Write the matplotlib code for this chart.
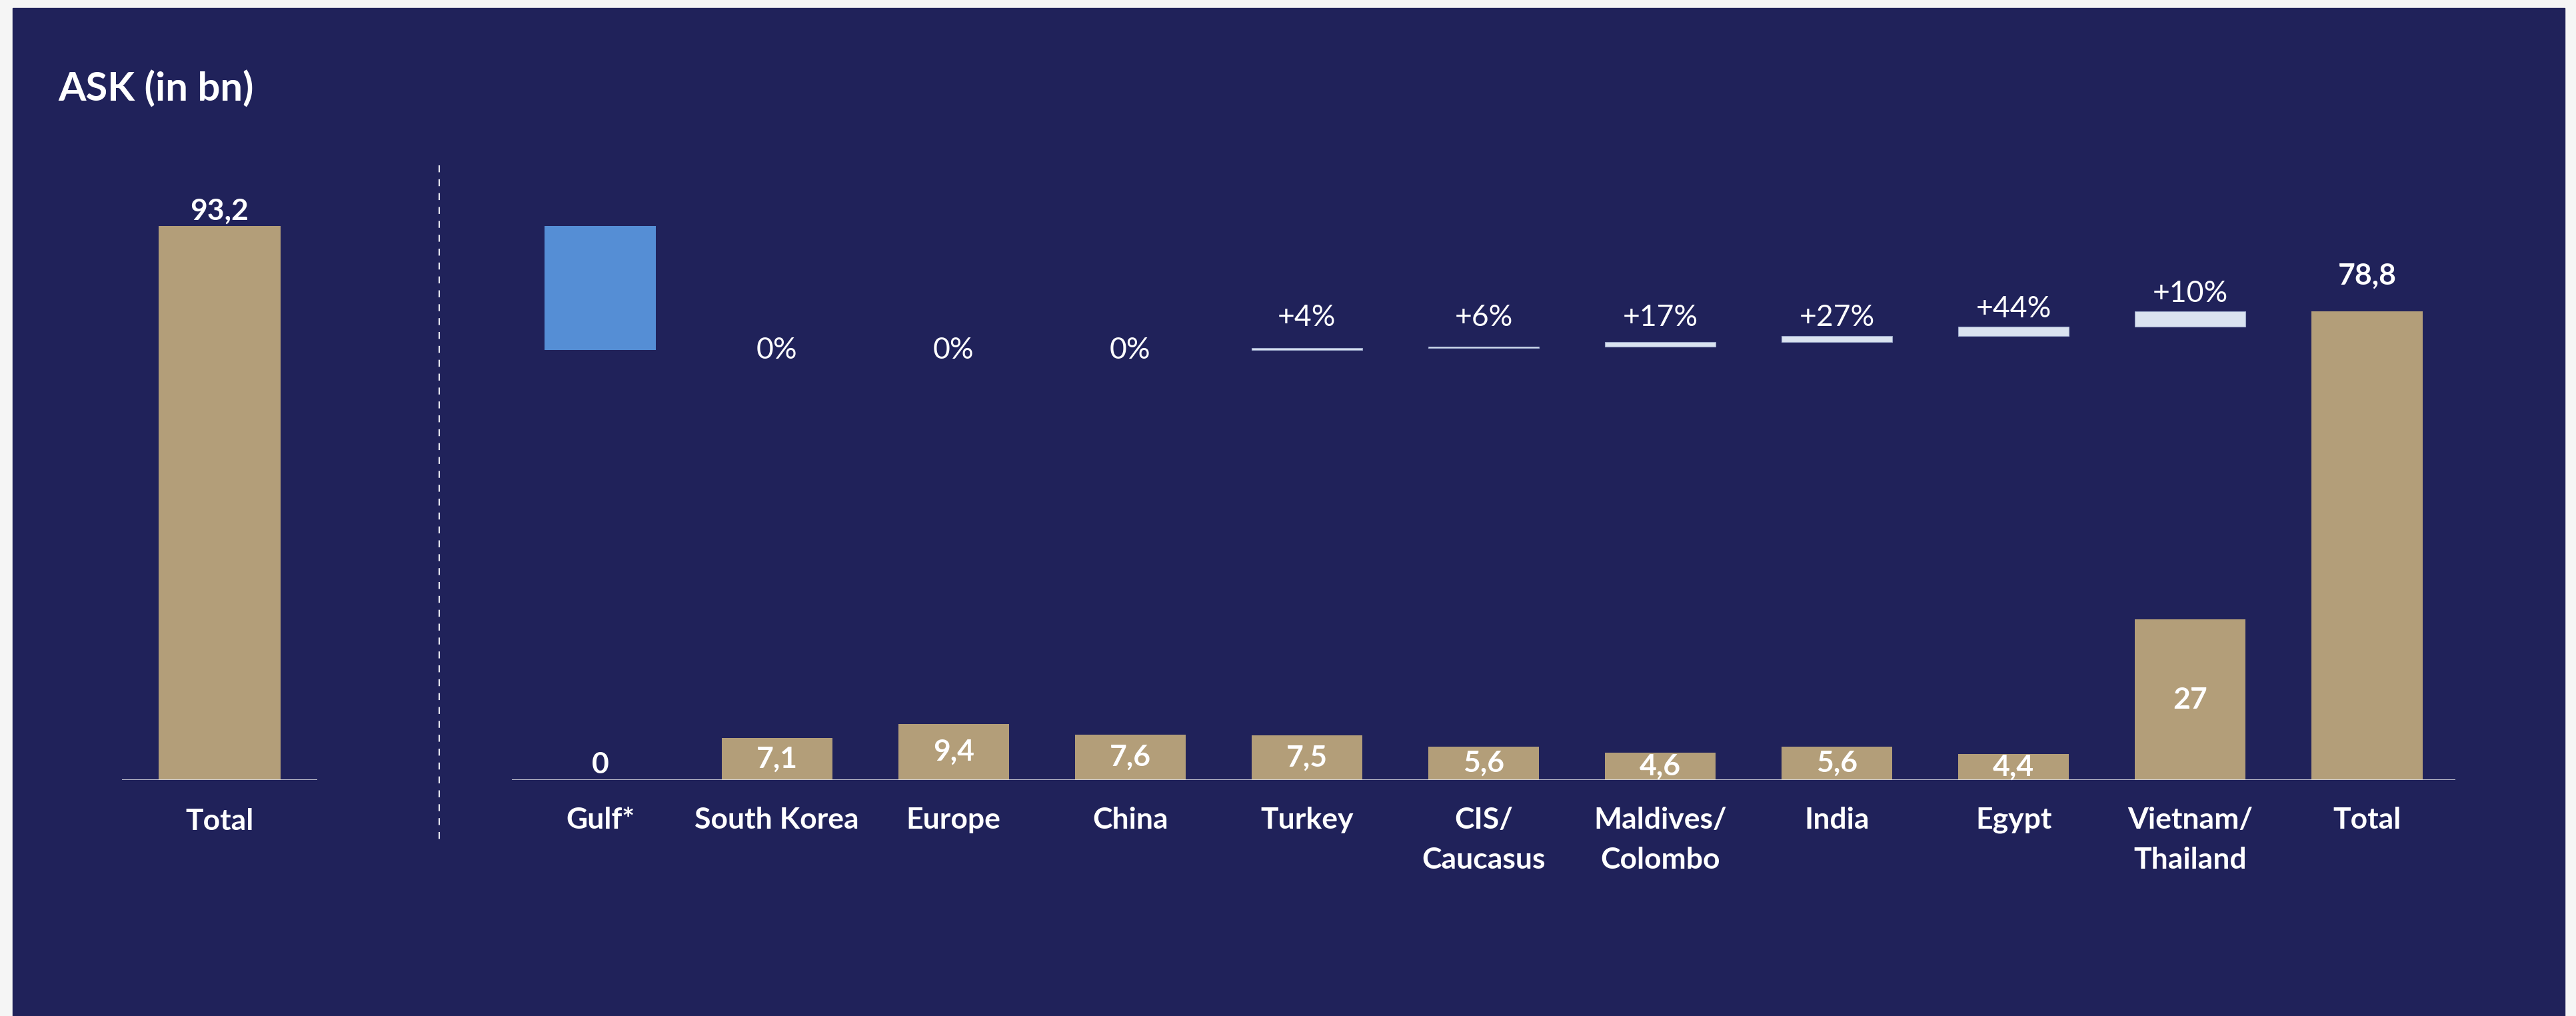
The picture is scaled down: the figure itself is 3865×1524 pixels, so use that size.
import numpy as np
import matplotlib.pyplot as plt
from matplotlib.patches import Rectangle
from matplotlib.lines import Line2D

plt.rcParams['font.family'] = ['Lato', 'DejaVu Sans']

navy = '#20225A'
gold = '#B39E79'
blue = '#558ED5'
pale = '#DAE3F0'
white = 'white'

# data
start_total = 93.2
start_label = '93,2'
regions = ['Gulf*', 'South Korea', 'Europe', 'China', 'Turkey', 'CIS/\nCaucasus',
           'Maldives/\nColombo', 'India', 'Egypt', 'Vietnam/\nThailand']
region_ask = [0, 7.1, 9.4, 7.6, 7.5, 5.6, 4.6, 5.6, 4.4, 27]
region_labels = ['0', '7,1', '9,4', '7,6', '7,5', '5,6', '4,6', '5,6', '4,4', '27']
gulf_drop = 20.9
growth = [0, 0, 0, 0.3, 0.3, 0.7, 1.1, 1.5, 2.6]  # South Korea .. Vietnam/Thailand
growth_pct = ['0%', '0%', '0%', '+4%', '+6%', '+17%', '+27%', '+44%', '+10%']
end_total = 78.8
end_label = '78,8'

W, H = 3865, 1524
fig = plt.figure(figsize=(W / 100, H / 100), dpi=100)
fig.patch.set_facecolor('#F5F5F5')
fig.add_artist(Rectangle((19 / W, 0), (3848 - 19) / W, (H - 12) / H,
                         transform=fig.transFigure, color=navy, zorder=-5))

ymax = 100
y0 = (H - 1170) / H
yh = 892 / H
axl = fig.add_axes([183 / W, y0, 293 / W, yh])
axr = fig.add_axes([768 / W, y0, 2916 / W, yh])

for ax in (axl, axr):
    ax.set_facecolor('none')
    for s in ax.spines.values():
        s.set_visible(False)
    ax.set_xticks([])
    ax.set_yticks([])
    ax.set_ylim(0, ymax)
    ax.axhline(0, color='#D4D4DC', lw=2, zorder=3)

bw = 0.627
fs = 32
lab_kw = dict(color=white, fontsize=fs, fontweight='bold', ha='center')

# left panel: starting total
axl.set_xlim(-0.5, 0.5)
axl.bar([0], [start_total], width=bw, color=gold, zorder=2)
axl.annotate(start_label, (0, start_total), xytext=(0, 9), textcoords='offset pixels',
             va='baseline', **lab_kw)
axl.annotate('Total', (0, 0), xytext=(0, -42), textcoords='offset pixels',
             va='top', **lab_kw)

# right panel: waterfall
n = len(regions)
x = np.arange(n + 1)
axr.set_xlim(-0.5, n + 0.5)

level = start_total - gulf_drop
axr.bar([0], [gulf_drop], bottom=[level], width=bw, color=blue, zorder=2)

for i, (g, p) in enumerate(zip(growth, growth_pct)):
    xi = i + 1
    if g > 0:
        axr.bar([xi], [g], bottom=[level], width=bw, color=pale,
                edgecolor='#9AA6C8', lw=0.8, zorder=2)
        ty = max(level + g + 1.6, 76.3)
        axr.text(xi, ty, p, color=white, fontsize=fs, ha='center', va='baseline')
    else:
        axr.text(xi, level, p, color=white, fontsize=fs, ha='center', va='center')
    level += g

axr.bar(x[:n], region_ask, width=bw, color=gold, zorder=2)
for xi, v, t in zip(x[:n], region_ask, region_labels):
    if v > 0:
        axr.text(xi, v / 2, t, va='center', zorder=4, **lab_kw)
    else:
        axr.annotate(t, (xi, 0), xytext=(0, 10), textcoords='offset pixels',
                     va='baseline', **lab_kw)

axr.bar([n], [end_total], width=bw, color=gold, zorder=2)
axr.annotate(end_label, (n, end_total), xytext=(0, 40), textcoords='offset pixels',
             va='baseline', **lab_kw)

for xi, name in zip(x, regions + ['Total']):
    axr.annotate(name, (xi, 0), xytext=(0, -40), textcoords='offset pixels',
                 va='top', linespacing=1.6, **lab_kw)

# dashed separator between the two panels
fig.add_artist(Line2D([659 / W, 659 / W], [1 - 248 / H, 1 - 1264 / H],
                      transform=fig.transFigure, color='#E8E8F0', lw=1.5,
                      dashes=(5, 5)))

fig.text(87 / W, 1 - 152 / H, 'ASK (in bn)', color=white, fontsize=43,
         fontweight='bold', ha='left', va='baseline')

fig.savefig('out.png', dpi=100, facecolor=fig.get_facecolor())
